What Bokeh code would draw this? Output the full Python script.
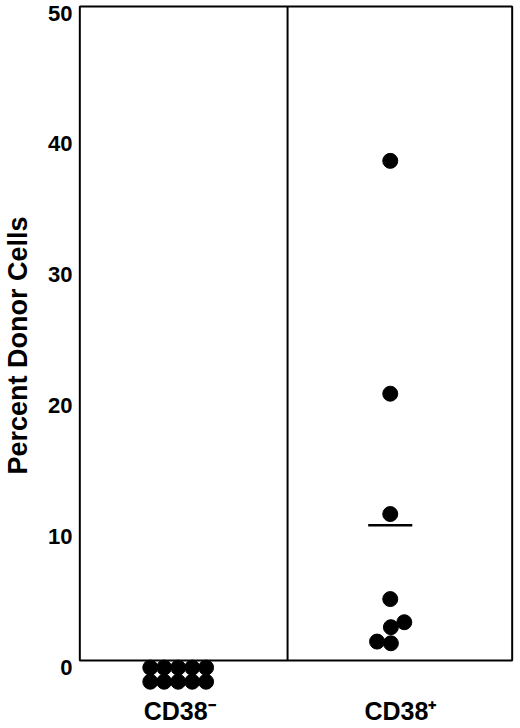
import numpy as np
from bokeh.plotting import figure
from bokeh.models import Range1d, LinearAxis, FixedTicker, BoxAnnotation, ColumnDataSource
from bokeh.embed import file_html
from bokeh.resources import INLINE

# ---- data ----
categories = ["CD38\u207b", "CD38\u207a"]
cd38_neg_values = [0, 0, 0, 0, 0, 0, 0, 0, 0, 0]
cd38_pos_values = [38.2, 20.4, 11.2, 4.7, 2.55, 2.93, 1.45, 1.32]
y_ticks = [0, 10, 20, 30, 40, 50]
y_max = 50

# ---- layout (positions only) ----
GROUP_X = [0.455, 1.436]
TICK_X = [0.462, 1.483]
DIVIDER_X = 0.961
BOX_RIGHT = 2.0
NEG_DX = [-0.129, -0.065, 0.0, 0.065, 0.129] * 2
NEG_DY = [-0.54] * 5 + [-1.62] * 5
POS_DX = [0.0, 0.0, 0.0, 0.0, 0.003, 0.065, -0.061, 0.003]
MEAN_HALF = 0.102
LABEL_SHIFT = 0.5
Y0, Y1 = -2.29, 50.46
FONT = "Liberation Sans"

p = figure(width=520, height=728,
           x_range=Range1d(-0.02, 2.02), y_range=Range1d(Y0, Y1),
           output_backend="svg", toolbar_location=None,
           x_axis_location=None, y_axis_location=None,
           min_border_left=75, min_border_right=4,
           min_border_top=0, min_border_bottom=38)
p.outline_line_color = None
p.grid.grid_line_color = None
p.background_fill_color = "white"
p.border_fill_color = "white"

# frame box 0..50
box = BoxAnnotation(left=0, right=BOX_RIGHT, bottom=0, top=y_max,
                    fill_alpha=0, line_color="black", line_alpha=1,
                    line_width=2)
p.add_layout(box)
p.segment(x0=[DIVIDER_X], y0=[0], x1=[DIVIDER_X], y1=[y_max],
          line_color="black", line_width=2)

# points
neg_src = ColumnDataSource(dict(
    x=[GROUP_X[0] + d for d in NEG_DX],
    y=[v + d for v, d in zip(cd38_neg_values, NEG_DY)]))
pos_src = ColumnDataSource(dict(
    x=[GROUP_X[1] + d for d in POS_DX],
    y=cd38_pos_values))
p.scatter("x", "y", source=neg_src, size=15, color="black")
p.scatter("x", "y", source=pos_src, size=15, color="black")

mean_pos = float(np.mean(cd38_pos_values))
p.segment(x0=[GROUP_X[1] - MEAN_HALF], x1=[GROUP_X[1] + MEAN_HALF],
          y0=[mean_pos], y1=[mean_pos], line_color="black", line_width=2.5)

# y axis (labels sit slightly below their lines, as in the original)
p.extra_y_ranges = {"lab": Range1d(Y0 + LABEL_SHIFT, Y1 + LABEL_SHIFT)}
yaxis = LinearAxis(y_range_name="lab", ticker=FixedTicker(ticks=y_ticks),
                   axis_label="Percent Donor Cells")
p.add_layout(yaxis, "left")

xaxis = LinearAxis(ticker=FixedTicker(ticks=TICK_X),
                   major_label_overrides={TICK_X[0]: categories[0],
                                          TICK_X[1]: categories[1]})
p.add_layout(xaxis, "below")

for ax in (yaxis, xaxis):
    ax.axis_line_color = None
    ax.major_tick_line_color = None
    ax.minor_tick_line_color = None
    ax.major_tick_out = 0
    ax.major_tick_in = 0
    ax.minor_tick_out = 0
    ax.minor_tick_in = 0
    ax.major_label_text_font = FONT
    ax.major_label_text_font_style = "bold"
    ax.major_label_text_color = "black"

yaxis.major_label_text_font_size = "22px"
yaxis.major_label_standoff = 3
yaxis.axis_label_text_font = FONT
yaxis.axis_label_text_font_style = "bold"
yaxis.axis_label_text_font_size = "27px"
yaxis.axis_label_text_color = "black"
yaxis.axis_label_standoff = 12

xaxis.major_label_text_font_size = "25px"
xaxis.major_label_standoff = 6

open("out.html", "w").write(file_html(p, INLINE))
